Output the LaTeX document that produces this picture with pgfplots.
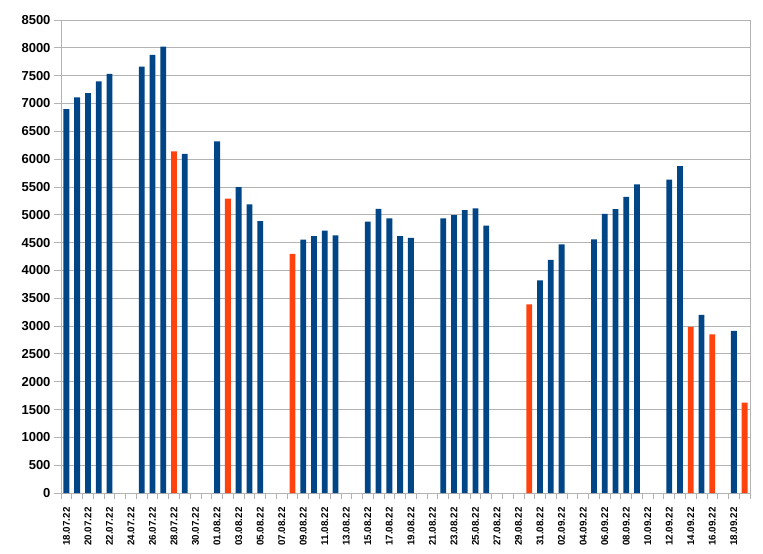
\documentclass[border=0pt]{standalone}
\usepackage{fontspec}
\setmainfont{Liberation Sans}
\usepackage{pgfplots}
\pgfplotsset{compat=1.18}
\definecolor{cblue}{HTML}{004586}
\definecolor{cred}{HTML}{FF420E}
\definecolor{cgrid}{HTML}{B3B3B3}
\begin{document}
\begin{tikzpicture}
\useasboundingbox (-61bp,-61bp) rectangle (702bp,493bp);
\begin{axis}[
 at={(0,0)}, anchor=south west,
 scale only axis, width=689bp, height=473bp,
 xmin=-0.5, xmax=63.5, ymin=0, ymax=8500,
 ytick={0,500,...,8500},
 ymajorgrids, grid style={cgrid, line width=0.8bp},
 axis line style={cgrid, line width=0.8bp},
 xtick={0,2,...,62},
 xticklabels={18.07.22,20.07.22,22.07.22,24.07.22,26.07.22,28.07.22,30.07.22,01.08.22,03.08.22,05.08.22,07.08.22,09.08.22,11.08.22,13.08.22,15.08.22,17.08.22,19.08.22,21.08.22,23.08.22,25.08.22,27.08.22,29.08.22,31.08.22,02.09.22,04.09.22,06.09.22,08.09.22,10.09.22,12.09.22,14.09.22,16.09.22,18.09.22},
 minor xtick={-0.5,0.5,...,63.5},
 tick align=outside, tick pos=left,
 major tick length=7bp, minor tick length=6bp,
 tick style={cgrid, line width=0.8bp},
 major x tick style={draw=none},
 xticklabel style={yshift=-4bp, rotate=90, anchor=east, font=\fontsize{9.8bp}{10bp}\selectfont\bfseries},
 yticklabel style={font=\fontsize{13bp}{14bp}\selectfont\bfseries},
 /pgf/number format/assume math mode=true,
 /pgf/number format/1000 sep={},
 ybar, bar width=5.8bp,
]
\addplot[fill=cblue, draw=none, bar shift=0pt] coordinates {
(0,6900) (1,7110) (2,7185) (3,7395) (4,7530)
(7,7660) (8,7875) (9,8020) (11,6095)
(14,6320) (16,5495) (17,5185) (18,4885)
(22,4555) (23,4615) (24,4715) (25,4630)
(28,4875) (29,5105) (30,4935) (31,4615) (32,4585)
(35,4935) (36,4995) (37,5085) (38,5115) (39,4805)
(44,3820) (45,4190) (46,4470)
(49,4560) (50,5015) (51,5100) (52,5320) (53,5545)
(56,5630) (57,5875) (59,3200) (62,2915)
};
\addplot[fill=cred, draw=none, bar shift=0pt] coordinates {
(10,6140) (15,5290) (21,4295) (43,3390) (58,2985) (60,2850) (63,1625)
};
\end{axis}
\end{tikzpicture}
\end{document}
